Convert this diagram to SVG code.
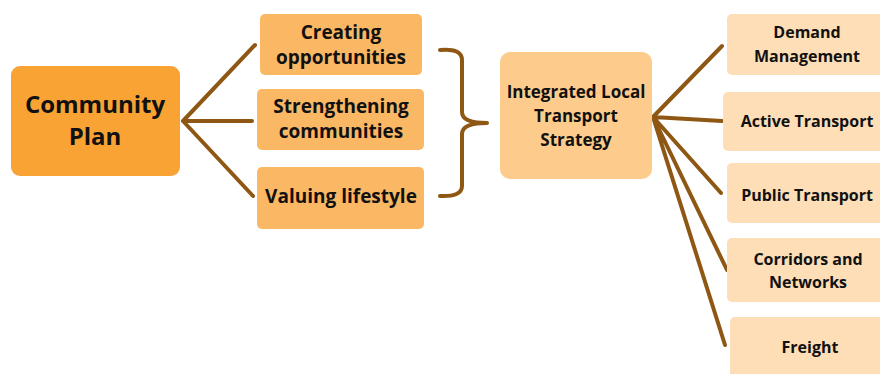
<svg xmlns="http://www.w3.org/2000/svg" width="880" height="374" viewBox="0 0 880 374">
<style>
text{font-family:"Open Sans","Liberation Sans",sans-serif;font-weight:bold;fill:#111;text-anchor:middle}
.l{fill:none;stroke:#8E5814;stroke-width:4;stroke-linecap:round;stroke-linejoin:round}
.c1{fill:#F9A334}.c2{fill:#FAB764}.c3{fill:#FDCC8C}.c4{fill:#FDDEB6}
.t1{font-size:24px}.t2{font-size:19px}.t3{font-size:17px}.t4{font-size:16px}
</style>
<rect width="880" height="374" fill="#fff"/>
<g id="connectors">
<path class="l" d="M255,45 L183,121 L252,121 M183,121 L253,196"/>
<path class="l" d="M440,50 Q462,48 462,60 L462,112 Q462,123 487,123 Q462,123 462,134 L462,186 Q462,197 440,196"/>
<path class="l" d="M722,46 L653,117 L722,121 M653,117 L721,193 M653,117 L727,270 M653,117 L725,345"/>
</g>
<g id="community-plan"><rect class="c1" x="11" y="66" width="169" height="110" rx="9"/>
<text class="t1" x="95" y="113">Community</text><text class="t1" x="95" y="145">Plan</text></g>
<g id="creating"><rect class="c2" x="260" y="14" width="162" height="61" rx="5"/>
<text class="t2" x="341" y="39">Creating</text><text class="t2" x="341" y="64">opportunities</text></g>
<g id="strengthening"><rect class="c2" x="257" y="89" width="167" height="61" rx="5"/>
<text class="t2" x="341" y="113">Strengthening</text><text class="t2" x="341" y="138">communities</text></g>
<g id="valuing"><rect class="c2" x="257" y="167" width="167" height="62" rx="5"/>
<text class="t2" x="341" y="203">Valuing lifestyle</text></g>
<g id="iltss"><rect class="c3" x="500" y="52" width="152" height="127" rx="10"/>
<text class="t3" x="576" y="98">Integrated Local</text><text class="t3" x="576" y="122">Transport</text><text class="t3" x="576" y="146">Strategy</text></g>
<g id="demand"><rect class="c4" x="727" y="14" width="170" height="61" rx="5"/>
<text class="t4" x="807" y="38">Demand</text><text class="t4" x="807" y="62">Management</text></g>
<g id="active"><rect class="c4" x="723" y="92" width="170" height="59" rx="5"/>
<text class="t4" x="807" y="127">Active Transport</text></g>
<g id="public"><rect class="c4" x="727" y="163" width="170" height="60" rx="5"/>
<text class="t4" x="807" y="201">Public Transport</text></g>
<g id="corridors"><rect class="c4" x="727" y="238" width="170" height="64" rx="5"/>
<text class="t4" x="808" y="265">Corridors and</text><text class="t4" x="808" y="288">Networks</text></g>
<g id="freight"><rect class="c4" x="730" y="317" width="170" height="70" rx="5"/>
<text class="t4" x="810" y="353">Freight</text></g>
</svg>
